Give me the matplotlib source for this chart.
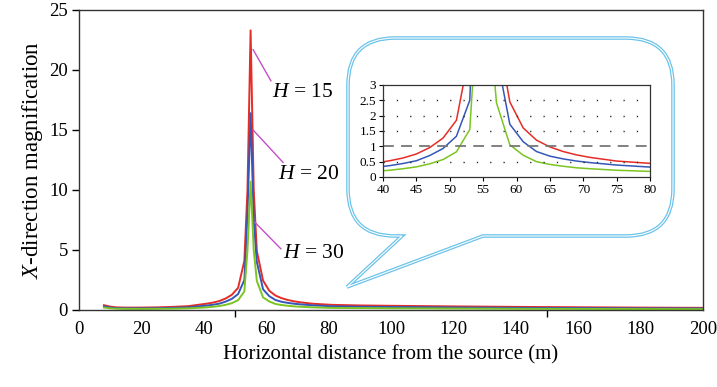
import matplotlib
matplotlib.use('Agg')
import matplotlib.pyplot as plt
from matplotlib.path import Path
from matplotlib.patches import PathPatch
from matplotlib.transforms import Affine2D

plt.rcParams['font.family'] = ['Liberation Serif', 'DejaVu Serif']
plt.rcParams['mathtext.fontset'] = 'custom'
plt.rcParams['mathtext.rm'] = 'Liberation Serif'
plt.rcParams['mathtext.it'] = 'Liberation Serif:italic'

# 数据：距离与各埋深下的放大系数
dist = [8, 10, 12, 15, 20, 25, 30, 35, 39, 41, 43, 45, 47, 49, 51, 53, 54, 55, 56,
        57, 59, 61, 63, 65, 67, 69, 71, 75, 81, 90, 100, 120, 140, 160, 180, 200]
h15 = [0.4, 0.28, 0.22, 0.2, 0.2, 0.22, 0.26, 0.32, 0.46, 0.53, 0.62, 0.75, 0.96,
       1.27, 1.85, 4.1, 10.0, 23.3, 10.0, 4.9, 2.45, 1.6, 1.2, 0.98, 0.83, 0.72,
       0.64, 0.52, 0.43, 0.38, 0.35, 0.3, 0.26, 0.23, 0.2, 0.18]
h20 = [0.3, 0.2, 0.16, 0.14, 0.14, 0.15, 0.18, 0.22, 0.32, 0.37, 0.44, 0.53, 0.7,
       0.93, 1.33, 2.5, 8.0, 16.4, 7.5, 4.0, 1.72, 1.15, 0.83, 0.68, 0.59, 0.52,
       0.47, 0.39, 0.31, 0.27, 0.25, 0.21, 0.18, 0.16, 0.14, 0.13]
h30 = [0.2, 0.14, 0.11, 0.1, 0.09, 0.1, 0.11, 0.14, 0.19, 0.22, 0.27, 0.33, 0.43,
       0.57, 0.82, 1.55, 5.0, 10.7, 5.0, 2.42, 1.05, 0.71, 0.5, 0.41, 0.35, 0.3,
       0.27, 0.22, 0.175, 0.16, 0.14, 0.12, 0.1, 0.09, 0.08, 0.07]
series = [(h15, '#e52d27'), (h20, '#3558b8'), (h30, '#7cc421')]

labels = ['$H$ = 15', '$H$ = 20', '$H$ = 30']
label_tip = [(55.8, 21.7), (55.8, 15.0), (56.4, 7.3)]
label_end = [(61.5, 19.1), (65.4, 12.3), (64.7, 5.1)]
label_pos = [(61.9, 18.1), (63.8, 11.3), (65.4, 4.75)]

W, H = 717, 387
fig = plt.figure(figsize=(W / 100, H / 100), dpi=100)
ax = fig.add_axes([79 / W, 1 - 310 / H, 624 / W, 300 / H])

for vals, c in series:
    ax.plot(dist, vals, color=c, lw=1.4)

ax.set_xlim(0, 200)
ax.set_ylim(0, 25)
ax.set_xticks(range(0, 201, 20))
ax.set_xticks([50, 100, 150], minor=True)
ax.set_yticks(range(0, 26, 5))
ax.tick_params(axis='x', which='major', length=0, pad=8, labelsize=13.5)
ax.tick_params(axis='x', which='minor', length=5, width=1, direction='out')
ax.tick_params(axis='y', length=5, width=1, direction='out', labelsize=13.5, pad=3)
for s in ax.spines.values():
    s.set_color('#333333')
    s.set_linewidth(1)
ax.set_xlabel('Horizontal distance from the source (m)', fontsize=15, labelpad=5)
ax.set_ylabel('$X$-direction magnification', fontsize=16.5, labelpad=3)

for lab, tip, end, pos in zip(labels, label_tip, label_end, label_pos):
    ax.plot([tip[0], end[0]], [tip[1], end[1]], color='#c450c8', lw=1)
    ax.text(pos[0], pos[1], lab, fontsize=15.5, ha='left', va='center')

# 气泡框（双线效果）
L, R, T, B, r = 348, 673, 38, 236, 47
verts = [(L + r, T), (R - r, T), (R, T), (R, T + r), (R, B - r), (R, B), (R - r, B),
         (483, B), (347, 287), (402, B), (L + r, B), (L, B), (L, B - r),
         (L, T + r), (L, T), (L + r, T)]
codes = [Path.MOVETO, Path.LINETO, Path.CURVE3, Path.CURVE3, Path.LINETO,
         Path.CURVE3, Path.CURVE3, Path.LINETO, Path.LINETO, Path.LINETO,
         Path.LINETO, Path.CURVE3, Path.CURVE3, Path.LINETO, Path.CURVE3, Path.CURVE3]
bubble = Path(verts, codes)
tr = Affine2D().scale(1 / W, -1 / H).translate(0, 1) + fig.transFigure
fig.patches.append(PathPatch(bubble, transform=tr, fill=False, ec='#6cc3ea',
                             lw=2.6, joinstyle='miter'))
fig.patches.append(PathPatch(bubble, transform=tr, fill=False, ec='white',
                             lw=0.8, joinstyle='miter'))

# 局部放大图
ins = fig.add_axes([383 / W, 1 - 177 / H, 267 / W, 92 / H])
for vals, c in series:
    ins.plot(dist, vals, color=c, lw=1.1)
for yv in [0.5, 1.5, 2, 2.5]:
    ins.axhline(yv, color='#222222', lw=1, dashes=(0.9, 8.7), dash_capstyle='butt')
ins.axhline(1, color='#777777', lw=1.3, dashes=(6, 4))
ins.set_xlim(40, 80)
ins.set_ylim(0, 3)
ins.set_xticks(range(40, 81, 5))
ins.set_yticks([0, 0.5, 1, 1.5, 2, 2.5, 3])
ins.set_yticklabels(['0', '0.5', '1', '1.5', '2', '2.5', '3'])
ins.tick_params(labelsize=9.5, length=3, width=0.8, direction='out', pad=2)
for s in ins.spines.values():
    s.set_color('#333333')
    s.set_linewidth(0.9)

fig.savefig('out.png', dpi=100)
